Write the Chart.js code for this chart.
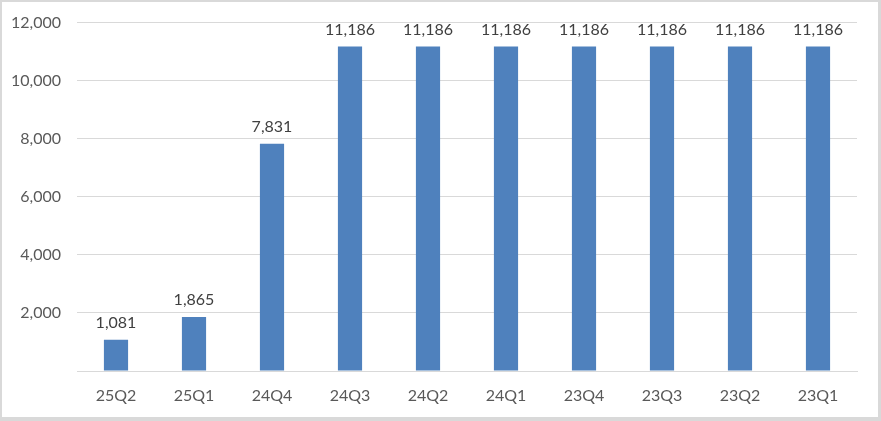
<!DOCTYPE html>
<html><head><meta charset="utf-8">
<script src="https://cdn.jsdelivr.net/npm/chart.js@4/dist/chart.umd.min.js"></script>
<style>
html,body{margin:0;padding:0;background:#fff;}
#wrap{width:881px;height:421px;box-sizing:border-box;border:2px solid #d9d9d9;border-bottom-width:4px;border-right-width:3px;position:relative;}
</style></head>
<body><div id="wrap"><canvas id="c" width="876" height="415"></canvas></div>
<script>
const categories = ['25Q2','25Q1','24Q4','24Q3','24Q2','24Q1','23Q4','23Q3','23Q2','23Q1'];
const values = [1081,1865,7831,11186,11186,11186,11186,11186,11186,11186];
const yTicks = [0,2000,4000,6000,8000,10000,12000];

const fmt = v => v.toLocaleString('en-US');
const FONT = 'Lato, "Open Sans", sans-serif';

const labelPlugin = {
  id:'barLabels',
  afterDatasetsDraw(chart){
    const ctx = chart.ctx;
    const meta = chart.getDatasetMeta(0);
    ctx.save();
    ctx.font = '16px ' + FONT;
    ctx.fillStyle = '#404040';
    ctx.textAlign = 'center';
    ctx.textBaseline = 'bottom';
    meta.data.forEach((bar,i)=>{
      ctx.fillText(fmt(chart.data.datasets[0].data[i]), bar.x, bar.y - 9);
    });
    ctx.restore();
  }
};

new Chart(document.getElementById('c'), {
  type:'bar',
  data:{labels:categories, datasets:[{data:values, backgroundColor:'#4f81bd', borderWidth:0, categoryPercentage:1, barPercentage:0.31}]},
  options:{
    responsive:false, animation:false,
    layout:{padding:{top:0,right:21,left:0,bottom:0}},
    plugins:{legend:{display:false}, tooltip:{enabled:false}},
    scales:{
      x:{
        grid:{display:false, drawTicks:false},
        border:{display:true,color:'#d9d9d9',width:1},
        ticks:{color:'#595959', font:{family:FONT,size:16}, padding:15, maxRotation:0},
        afterFit(s){ s.height = 46; }
      },
      y:{
        min:0,max:12000,
        afterBuildTicks(s){ s.ticks = yTicks.map(v=>({value:v})); },
        grid:{color:'#d9d9d9', drawTicks:false, lineWidth:1},
        border:{display:false},
        ticks:{color:'#595959', font:{family:FONT,size:16,lineHeight:0.6}, padding:16,
          callback:(v)=> v===0 ? '' : fmt(v)},
        afterFit(s){ s.width = 75; }
      }
    }
  },
  plugins:[labelPlugin]
});
</script></body></html>
